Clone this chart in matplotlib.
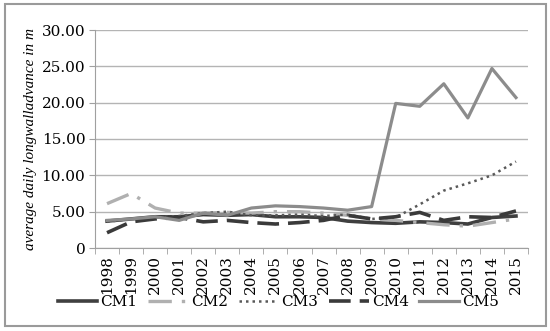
import matplotlib.pyplot as plt
from matplotlib.patches import Rectangle
from matplotlib.ticker import FixedLocator

years = [str(y) for y in range(1998, 2016)]

cm1 = [3.7, 4.0, 4.3, 4.3, 4.6, 4.5, 4.6, 4.3, 4.3, 4.2, 3.7, 3.5, 3.4, 3.6, 3.5, 3.3, 4.2, 4.4]
cm2 = [6.1, 7.5, 5.5, 4.8, 4.8, 4.9, 4.8, 5.0, 5.0, 4.8, 4.5, 4.0, 3.8, 3.5, 3.2, 3.0, 3.5, 4.0]
cm3 = [3.6, 4.0, 4.2, 4.4, 4.8, 5.0, 4.5, 4.5, 4.6, 4.4, 4.6, 4.0, 4.2, 6.0, 7.9, 8.9, 10.0, 11.9]
cm4 = [2.1, 3.6, 4.0, 4.2, 3.6, 3.8, 3.5, 3.3, 3.5, 3.8, 4.5, 4.0, 4.3, 4.9, 3.8, 4.3, 4.2, 5.1]
cm5 = [3.8, 4.0, 4.3, 3.8, 4.8, 4.5, 5.5, 5.8, 5.7, 5.5, 5.2, 5.7, 19.9, 19.5, 22.6, 17.9, 24.7, 20.7]

yticks = [0, 5, 10, 15, 20, 25, 30]
ytick_labels = ['0', '5.00', '10.00', '15.00', '20.00', '25.00', '30.00']

plt.rcParams['font.family'] = ['DejaVu Serif']

fig = plt.figure(figsize=(5.5, 3.31), dpi=100)
ax = fig.add_axes([95 / 550, 1 - 248 / 331, 433 / 550, 218 / 331])

# 外框
fig.add_artist(Rectangle((5 / 550, 5 / 331), 541 / 550, 322 / 331, transform=fig.transFigure,
                         fill=False, edgecolor='#9a9a9a', linewidth=1.5))

x = list(range(len(years)))
ax.plot(x, cm1, color='#3f3f3f', linewidth=2.6, label='CM1', zorder=3)
ax.plot(x, cm2, color='#b0b0b0', linewidth=2.4, dashes=(7, 3, 1, 3), label='CM2', zorder=3)
ax.plot(x, cm3, color='#595959', linewidth=1.8, linestyle=(0, (1, 1.6)), label='CM3', zorder=3)
ax.plot(x, cm4, color='#3a3a3a', linewidth=2.6, dashes=(6, 2.5), label='CM4', zorder=3)
ax.plot(x, cm5, color='#8c8c8c', linewidth=2.3, label='CM5', zorder=3)

ax.set_xlim(-0.5, len(years) - 0.5)
ax.set_ylim(0, 30)
ax.set_yticks(yticks)
ax.set_yticklabels(ytick_labels, fontsize=11)
ax.set_xticks(x)
ax.set_xticklabels(years, rotation=90, fontsize=11)
ax.xaxis.set_minor_locator(FixedLocator([i - 0.5 for i in range(len(years) + 1)]))
ax.tick_params(axis='x', which='major', length=0, pad=5)
ax.tick_params(axis='x', which='minor', length=4, color='#a0a0a0')
ax.tick_params(axis='y', length=4, color='#a0a0a0', pad=3)

ax.grid(axis='y', color='#b4b4b4', linewidth=1)
ax.set_axisbelow(True)
for s in ['top', 'right']:
    ax.spines[s].set_visible(False)
ax.spines['left'].set_color('#a0a0a0')
ax.spines['bottom'].set_color('#a0a0a0')

ax.set_ylabel('average daily longwalladvance in m', fontstyle='italic', fontsize=11,
              family=['Liberation Serif'])
ax.yaxis.set_label_coords(-0.135, 0.5)

fig.legend(loc='center', bbox_to_anchor=(0.506, 1 - 302 / 331), ncol=5, frameon=False,
           fontsize=11, handlelength=2.6, columnspacing=0.7, handletextpad=0.2)

fig.savefig('out.png', dpi=100)
